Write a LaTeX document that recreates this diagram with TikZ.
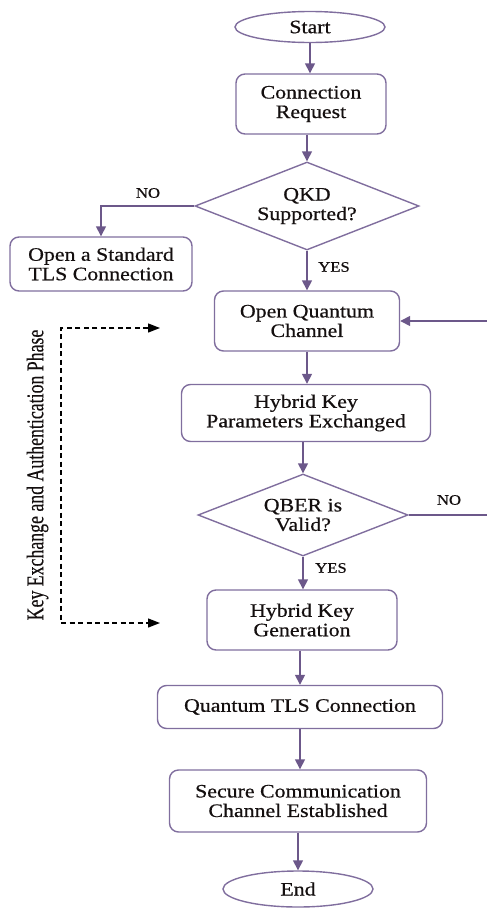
\documentclass[tikz,border=0pt]{standalone}
\usepackage{graphicx}
\usepackage{fontspec}
\setmainfont{Liberation Serif}[FakeStretch=1.15, FakeBold=0.6]
\newfontfamily\sidefont{Liberation Serif}[FakeBold=0.4]
\usetikzlibrary{shapes.geometric,arrows.meta}
\definecolor{edgeline}{RGB}{128,110,158}
\definecolor{flowline}{RGB}{108,88,138}
\definecolor{ink}{RGB}{20,15,15}
\tikzset{
  boxtext/.style={font=\fontsize{19}{19.5}\selectfont, text=ink, align=center},
  procbox/.style={boxtext, draw=edgeline, line width=1.4pt, rounded corners=9pt,
    rectangle, inner sep=0pt},
  termbox/.style={boxtext, draw=edgeline, line width=1.4pt, ellipse, inner sep=0pt},
  decbox/.style={boxtext, draw=edgeline, line width=1.4pt, diamond, aspect=2.5, inner sep=0pt},
  lbl/.style={font=\fontsize{14.5}{15}\selectfont, text=ink, inner sep=0pt},
  flow/.style={draw=flowline, line width=1.5pt, -{Triangle[length=10pt,width=10pt]}},
  phase/.style={draw=black, line width=1.3pt, dash pattern=on 5pt off 3.5pt,
    {Triangle[length=12pt,width=9pt]}-{Triangle[length=12pt,width=9pt]}}
}
\begin{document}
\begin{tikzpicture}[x=1pt,y=-1pt]
\useasboundingbox (0,0) rectangle (487,908);
\clip (0,0) rectangle (487,908);

% main column
\node[termbox, minimum width=150pt, minimum height=31pt] (start) at (310,27) {Start};
\node[procbox, minimum width=150pt, minimum height=60pt] (conn) at (311,104) {Connection\\Request};
\node[decbox, minimum width=224pt, minimum height=88pt] (qkd) at (307,206) {QKD\\Supported?};
\node[procbox, minimum width=182pt, minimum height=54pt] (tls) at (101,264) {Open a Standard\\TLS Connection};
\node[procbox, minimum width=185pt, minimum height=60pt] (oqc) at (307,321) {Open Quantum\\Channel};
\node[procbox, minimum width=249pt, minimum height=57pt] (hkpe) at (306,413) {Hybrid Key\\Parameters Exchanged};
\node[decbox, minimum width=210pt, minimum height=82pt] (qber) at (303,515) {QBER is\\Valid?};
\node[procbox, minimum width=190pt, minimum height=60pt] (hkg) at (302,620) {Hybrid Key\\Generation};
\node[procbox, minimum width=285pt, minimum height=43pt] (qtls) at (300,707) {Quantum TLS Connection};
\node[procbox, minimum width=257pt, minimum height=62pt] (sc) at (298,801) {Secure Communication\\Channel Established};
\node[termbox, minimum width=150pt, minimum height=36pt] (end) at (298,889) {End};

% branch labels
\node[lbl] (noA) at (148,193) {NO};
\node[lbl] (yesA) at (334,267) {YES};
\node[lbl] (noB) at (449,500) {NO};
\node[lbl] (yesB) at (331,568) {YES};

% connectors
\draw[flow] (start.south) -- (start.south |- conn.north);
\draw[flow] (conn.south -| qkd.north) -- (qkd.north);
\draw[flow] (qkd.west) -| (tls.north);
\draw[flow] (qkd.south) -- (qkd.south |- oqc.north);
\draw[flow] (oqc.south) -- (oqc.south |- hkpe.north);
\draw[flow] (hkpe.south -| qber.north) -- (qber.north);
\draw[flow] (qber.south) -- (qber.south |- hkg.north);
\draw[flow] (hkg.south -| qtls.north) -- (qtls.north);
\draw[flow] (qtls.south) -- (qtls.south |- sc.north);
\draw[flow] (sc.south) -- (sc.south |- end.north);
\draw[flow] (qber.east) -- ++(95,0) |- (oqc.east);

% phase bracket
\coordinate (ptop) at (61,328);
\coordinate (pbot) at (61,623);
\coordinate (ptopend) at (160,328);
\coordinate (pbotend) at (160,623);
\draw[phase] (ptopend) -- (ptop) -- (pbot) -- (pbotend);
\node[rotate=90, text=ink, inner sep=0pt] (phaselbl) at (37.5,475)
  {\scalebox{1}[1.35]{\sidefont\fontsize{17.8}{20}\selectfont Key Exchange and Authentication Phase}};
\end{tikzpicture}
\end{document}
